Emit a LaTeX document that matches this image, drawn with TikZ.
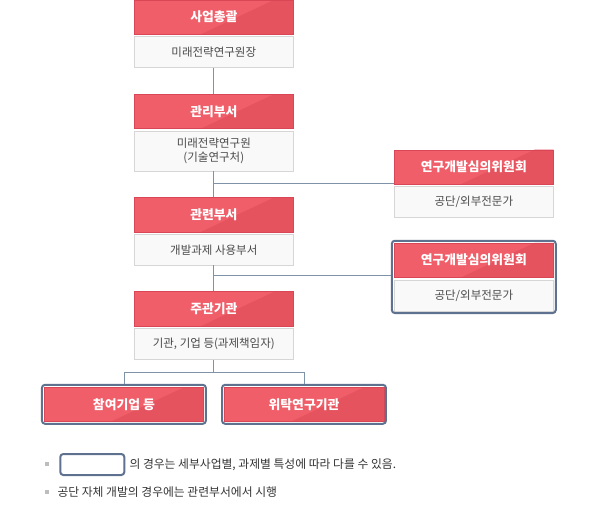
\documentclass[tikz,border=0pt]{standalone}
\usepackage{fontspec}
\setmainfont{Noto Sans CJK KR}
\usetikzlibrary{positioning,calc,fit}

\definecolor{headred}{HTML}{EF5E69}
\definecolor{headdark}{HTML}{E5535F}
\definecolor{headline}{HTML}{D94655}
\definecolor{subfill}{HTML}{F9F9F9}
\definecolor{subline}{HTML}{D6D6D6}
\definecolor{subtext}{HTML}{4A4A4A}
\definecolor{linkline}{HTML}{7F93A8}
\definecolor{frameline}{HTML}{5E7290}
\definecolor{dotgray}{HTML}{BDBDBD}

\tikzset{
  head/.style={rectangle, draw=headline, fill=headred, text=white, minimum width=159.5pt, minimum height=34.5pt, inner sep=0pt, font=\fontsize{12.8}{14}\selectfont\bfseries,
    path picture={\fill[headdark] ($(path picture bounding box.south west)!0.42!(path picture bounding box.south east)$) -- ($(path picture bounding box.north west)!0.88!(path picture bounding box.north east)$) -- (path picture bounding box.north east) -- (path picture bounding box.south east) -- cycle;}},
  sub/.style={rectangle, draw=subline, fill=subfill, text=subtext, minimum width=159.5pt, minimum height=31pt, inner sep=0pt, align=center, font=\fontsize{11.5}{13.5}\selectfont},
  frame/.style={rectangle, draw=frameline, line width=2pt, rounded corners=3pt, inner sep=2pt},
  link/.style={draw=linkline, line width=0.8pt},
  note/.style={anchor=west, inner sep=0pt, text=black!80, font=\fontsize{11.8}{13}\selectfont},
  dot/.style={fill=dotgray, minimum size=4pt, inner sep=0pt}
}

\begin{document}
\begin{tikzpicture}[x=1pt, y=-1pt]
\useasboundingbox (0,0) rectangle (600,516);

% main column
\node [head] (top) at (213.8,17) {사업총괄};
\node [sub, below=2pt of top] (topsub) {미래전략연구원장};
\node [head, below=26pt of topsub] (mgmt) {관리부서};
\node [sub, below=2pt of mgmt, minimum height=40pt] (mgmtsub) {미래전략연구원\\(기술연구처)};
\node [head, below=26pt of mgmtsub] (dept) {관련부서};
\node [sub, below=2pt of dept] (deptsub) {개발과제 사용부서};
\node [head, below=26pt of deptsub] (lead) {주관기관};
\node [sub, below=2pt of lead] (leadsub) {기관, 기업 등(과제책임자)};

% review boxes
\node [head] (review) at (473.8,167) {연구개발심의위원회};
\node [sub, below=2pt of review] (reviewsub) {공단/외부전문가};
\node [head] (review2) at (473.8,260.2) {연구개발심의위원회};
\node [sub, below=2pt of review2] (review2sub) {공단/외부전문가};
\node [frame, fit=(review2)(review2sub)] (review2frame) {};

% bottom boxes
\node [head] (partner) at (123.9,404.3) {참여기업 등};
\node [frame, fit=(partner)] (partnerframe) {};
\node [head] (consign) at (304,404.3) {위탁연구기관};
\node [frame, fit=(consign)] (consignframe) {};

% connectors
\draw [link] (topsub) -- (mgmt);
\draw [link] (mgmtsub) -- (dept);
\draw [link] (deptsub) -- (lead);
\coordinate (tap1) at ([yshift=1pt]review.south west);
\draw [link] (mgmtsub.south |- tap1) -- (tap1);
\coordinate (tap2) at ([yshift=2.5pt]review2.south west);
\draw [link] (deptsub.south |- tap2) -- (review2frame.west |- tap2);
\coordinate (split) at ($(leadsub.south)+(0,12.5)$);
\draw [link] (leadsub) -- (split);
\draw [link] (partnerframe.north) |- (split) -| (consignframe.north);

% notes
\node [dot] (dot1) at (47,464) {};
\node [frame, minimum width=64pt, minimum height=21pt, fill=white] (keybox) at (92.3,464.5) {};
\node [note, right=4pt of keybox] (note1) {의 경우는 세부사업별, 과제별 특성에 따라 다를 수 있음.};
\node [dot] (dot2) at (47,492) {};
\node [note] (note2) at (57.3,492) {공단 자체 개발의 경우에는 관련부서에서 시행};

\end{tikzpicture}
\end{document}
